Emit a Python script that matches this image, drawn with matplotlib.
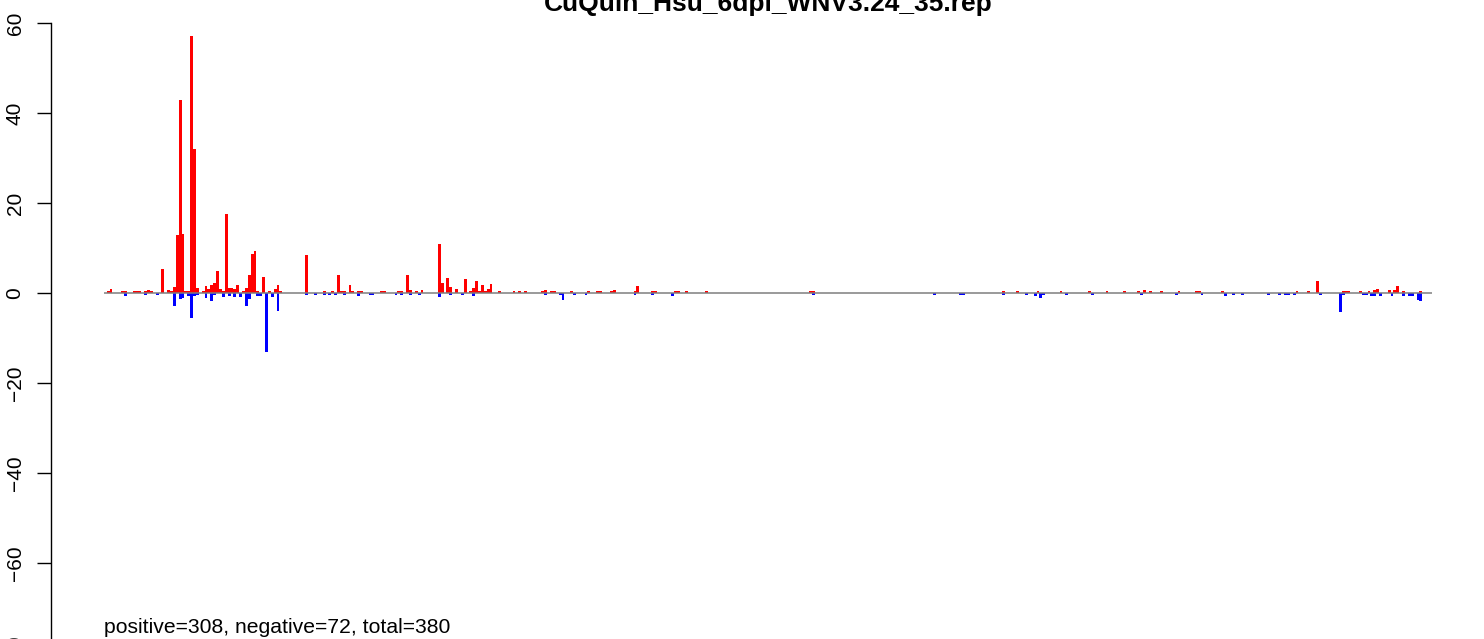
import matplotlib
matplotlib.use('Agg')
import matplotlib.pyplot as plt

N = 459
title = "CuQuin_Hsu_6dpi_WNV3.24_35.rep"
note = "positive=308, negative=72, total=380"
yticks = [-80, -60, -40, -20, 0, 20, 40, 60]

pos_bins = [1, 2, 6, 7, 10, 11, 12, 14, 15, 16, 20, 22, 23, 24, 25, 26, 27, 28, 29, 30,
            31, 32, 34, 35, 36, 37, 38, 39, 40, 41, 42, 43, 44, 45, 46, 48, 49, 50, 51, 52,
            53, 55, 57, 59, 60, 61,
            70, 76, 79, 81, 82, 83, 85, 86, 88, 89, 96, 97, 102, 103, 105, 106, 108, 110,
            116, 117, 119, 120, 122, 125, 127, 128, 129, 130, 131, 132, 133, 134, 137, 142,
            144, 146, 152, 153, 155, 156, 162, 168, 171, 172, 176, 177, 184, 185, 190, 191,
            198, 199, 202, 209,
            245, 246, 312, 317, 324, 332, 342, 348, 354, 359, 361, 363, 367, 373, 379, 380,
            388, 414, 418, 421, 430, 431, 432, 436, 439, 441, 442, 446, 448, 449, 451, 457]
pos_vals = [0.45, 0.9, 0.45, 0.45, 0.45, 0.45, 0.45, 0.45, 0.7, 0.45, 5.3, 0.6, 0.45, 1.3, 12.9, 42.9, 13.1, 0.45, 0.5, 57.1,
            32.0, 1.1, 0.5, 1.6, 0.9, 1.8, 2.2, 4.9, 0.9, 0.4, 17.6, 1.1, 1.1, 0.9, 1.8, 0.5, 1.1, 4.0, 8.7, 9.3,
            0.5, 3.6, 0.45, 0.9, 1.8, 0.45,
            8.4, 0.45, 0.45, 4.0, 0.45, 0.5, 1.8, 0.45, 0.5, 0.45, 0.5, 0.45, 0.5, 0.45, 4.0, 0.7, 0.45, 0.7,
            10.9, 2.2, 3.3, 1.3, 0.9, 3.1, 0.45, 1.1, 2.7, 0.45, 1.8, 0.45, 0.9, 2.0, 0.5, 0.45,
            0.45, 0.45, 0.45, 0.7, 0.45, 0.45, 0.45, 0.45, 0.45, 0.45, 0.45, 0.7, 0.45, 1.6, 0.45, 0.5,
            0.45, 0.45, 0.45, 0.45,
            0.45, 0.45, 0.45, 0.45, 0.5, 0.45, 0.45, 0.45, 0.45, 0.45, 0.6, 0.45, 0.45, 0.45, 0.45, 0.45,
            0.45, 0.5, 0.45, 2.7, 0.5, 0.5, 0.5, 0.5, 0.45, 0.6, 1.0, 0.7, 0.6, 1.6, 0.45, 0.45]

neg_bins = [7, 14, 18, 24, 26, 27, 29, 30, 31, 32, 35, 37, 38, 41, 43, 45, 47, 49, 50, 53,
            54, 56, 58, 60,
            70, 73, 76, 78, 80, 83, 88, 92, 93, 101, 103, 106, 109, 116, 120, 124, 128, 153,
            158, 159, 163, 167, 184, 190, 197,
            246, 288, 297, 298, 312, 320, 323, 325, 326, 334, 343, 360, 372, 381, 389, 392,
            395, 404, 408, 410, 411, 413, 422, 429, 430, 437, 438, 440, 441, 443, 447, 451,
            453, 454, 456, 457]
neg_vals = [-0.6, -0.45, -0.45, -2.8, -1.3, -1.0, -0.7, -5.5, -0.7, -0.5, -1.0, -1.7, -0.5, -0.8, -0.6, -0.8, -0.8, -2.8, -1.3, -0.6,
            -0.6, -13.0, -0.8, -3.9,
            -0.5, -0.4, -0.5, -0.4, -0.4, -0.45, -0.6, -0.4, -0.4, -0.4, -0.4, -0.5, -0.4, -0.8, -0.4, -0.5, -0.7, -0.5,
            -0.4, -1.6, -0.4, -0.5, -0.4, -0.5, -0.7,
            -0.4, -0.4, -0.4, -0.5, -0.4, -0.4, -0.6, -1.0, -0.5, -0.5, -0.4, -0.4, -0.4, -0.4, -0.6, -0.4,
            -0.4, -0.4, -0.4, -0.4, -0.4, -0.4, -0.4, -4.3, -0.5, -0.4, -0.5, -0.6, -0.6, -0.6, -0.6, -0.6,
            -0.6, -0.6, -1.6, -1.8]

plt.rcParams['font.family'] = ['Liberation Sans', 'DejaVu Sans']

W, H = 1484, 639
fig = plt.figure(figsize=(W / 100, H / 100), dpi=100)
ax = fig.add_axes([51 / W, 1 - 700 / H, 1427 / W, 700 / H])
ax.set_xlim(-0.04 * N, 1.04 * N)
ax.set_ylim((293 - 700) / 4.5, 293 / 4.5)

ax.bar(pos_bins, pos_vals, width=1, align='edge', color='#ff0000', linewidth=0, zorder=2)
ax.bar(neg_bins, neg_vals, width=1, align='edge', color='#0000ff', linewidth=0, zorder=2)
ax.hlines(0, 0, N + 2.3, color='#7f7f7f', lw=1.1, zorder=3)

for s in ['top', 'right', 'bottom']:
    ax.spines[s].set_visible(False)
ax.spines['left'].set_bounds(yticks[0], yticks[-1])
ax.spines['left'].set_linewidth(1.0)
ax.set_xticks([])
ax.set_yticks(yticks)
ax.set_yticklabels([str(t).replace('-', '\u2212') for t in yticks])
ax.tick_params(axis='y', length=10, width=1.0, pad=9, labelsize=15, labelrotation=90)
for lab in ax.get_yticklabels():
    lab.set_va('center')
ax.patch.set_alpha(0)

ax.text(0, (293 - 633) / 4.5, note, fontsize=15.2, ha='left', va='baseline')
fig.text(768 / W, 1 - 11 / H, title, ha='center', va='baseline', fontsize=19, fontweight='bold')

fig.savefig('out.png', dpi=100)
